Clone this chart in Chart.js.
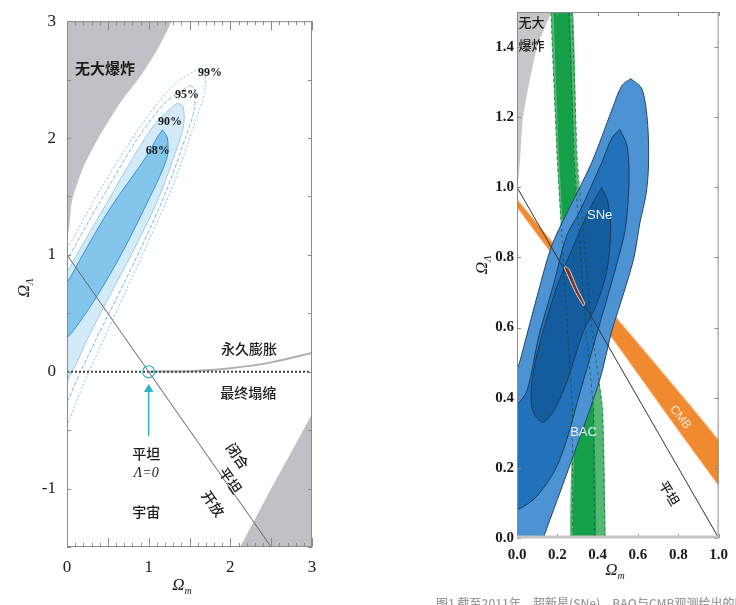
<!DOCTYPE html>
<html><head><meta charset="utf-8">
<script src="https://cdn.jsdelivr.net/npm/chart.js@4.4.1/dist/chart.umd.min.js"></script>
<style>
html,body{margin:0;padding:0;background:#fff;width:736px;height:605px;overflow:hidden;position:relative;}
canvas{position:absolute;top:0;}
#c1{left:0}
#c2{left:470px}
#cap{position:absolute;left:436px;top:594px;font:500 12px "Noto Sans CJK SC";color:#9a9a9a;white-space:nowrap;}
</style></head><body>
<canvas id="c1" width="330" height="605"></canvas>
<canvas id="c2" width="266" height="605"></canvas>
<div id="cap">图1  截至2011年，超新星(SNe)、BAO与CMB观测给出的限制</div>
<script>
// ---------- LEFT PANEL DATA (x = Ω_m, y = Ω_Λ) ----------
const leftXTicks = [0, 1, 2, 3];
const leftYTicks = [-1, 0, 1, 2, 3];
const noBigBangL = [[-0.3,1.0],[0,1.15],[0.06,1.46],[0.2,1.75],[0.4,2.02],[0.65,2.3],[0.89,2.52],[1.1,2.75],[1.28,3.0],[1.4,3.3],[-0.3,3.3],[-0.3,1.0]];
const recollapseL = [[2.0,-1.7],[2.12,-1.5],[2.5,-1.0],[2.8,-0.62],[3.0,-0.36],[3.1,-0.23],[3.2,-1.7],[2.0,-1.7]];
const flatLineL = [[0,1],[2.5,-1.5]];
const lambdaZeroL = [[0,0],[3,0]];
const expandBoundL = [[1,0],[1.5,0.005],[2.0,0.03],[2.5,0.08],[3.0,0.16]];
const c68 = [[1.17,2.07],[1.23,2.0],[1.22,1.82],[0.95,1.40],[0.645,0.98],[0.37,0.65],[0.15,0.42],[0,0.29],[-0.2,0.2],[-0.2,0.55],[0,0.76],[0.2,1.01],[0.53,1.40],[0.98,1.85],[1.1,2.0],[1.17,2.07]];
const c90 = [[1.35,2.3],[1.42,2.27],[1.43,2.12],[1.35,1.92],[1.1,1.45],[0.8,1.02],[0.5,0.62],[0.25,0.28],[0.1,0.05],[-0.2,-0.3],[-0.2,0.6],[0,0.85],[0.12,1.0],[0.45,1.4],[0.85,1.88],[1.1,2.14],[1.35,2.3]];
const c95 = [[1.5,2.45],[1.56,2.42],[1.56,2.25],[1.45,2.0],[1.2,1.52],[0.9,1.05],[0.6,0.62],[0.35,0.27],[0.18,0.02],[-0.2,-0.5],[-0.2,0.6],[0,0.95],[0.1,1.08],[0.4,1.45],[0.85,1.98],[1.2,2.3],[1.5,2.45]];
const c99 = [[1.62,2.6],[1.69,2.57],[1.68,2.38],[1.55,2.1],[1.3,1.6],[1.0,1.12],[0.7,0.66],[0.45,0.28],[0.28,0.02],[-0.2,-0.7],[-0.2,0.7],[0,1.05],[0.1,1.17],[0.4,1.55],[0.9,2.1],[1.3,2.45],[1.62,2.6]];
const flatPoint = [[1,0]];
const arrowL = [[1,-0.55],[1,-0.15]];

// ---------- RIGHT PANEL DATA ----------
const rightXTicks = [0, 0.2, 0.4, 0.6, 0.8, 1.0];
const rightYTicks = [0, 0.2, 0.4, 0.6, 0.8, 1.0, 1.2, 1.4];
const noBigBangR = [[-0.1,0.9],[0,1.0],[0.03,1.2],[0.1,1.4],[0.17,1.5],[0.2,1.6],[-0.1,1.6],[-0.1,0.9]];
const baoOuter = [[0.16,1.6],[0.2,1.07],[0.25,0.6],[0.275,0.37],[0.275,-0.1],[0.44,-0.1],[0.44,0.0],[0.425,0.37],[0.37,0.6],[0.30,1.07],[0.265,1.6],[0.16,1.6]];
const baoInner = [[0.175,1.6],[0.21,1.07],[0.26,0.6],[0.285,0.37],[0.285,-0.1],[0.385,-0.1],[0.38,0.37],[0.34,0.6],[0.285,1.07],[0.25,1.6],[0.175,1.6]];
const baoEdgeA = [[0.16,1.6],[0.2,1.07],[0.25,0.6],[0.275,0.37],[0.275,-0.1]];
const baoEdgeB = [[0.25,1.6],[0.285,1.07],[0.34,0.6],[0.38,0.37],[0.385,-0.1]];
const baoEdgeC = [[0.265,1.6],[0.30,1.07],[0.37,0.6],[0.425,0.37],[0.44,-0.1]];
const cmbBand = [[0.0,0.965],[0.2,0.826],[0.48,0.636],[1.05,0.24],[1.05,0.115],[0.48,0.565],[0.2,0.79],[0.0,0.945],[0.0,0.965]];
const sneOuter = [[0.565,1.31],[0.62,1.28],[0.648,1.18],[0.652,1.06],[0.64,0.98],[0.61,0.9],[0.58,0.8],[0.53,0.70],[0.47,0.59],[0.41,0.45],[0.27,0.22],[0.13,0.0],[0.0,-0.2],[-0.15,-0.2],[-0.15,0.3],[0,0.48],[0.04,0.56],[0.1,0.69],[0.17,0.83],[0.25,0.93],[0.37,1.07],[0.47,1.22],[0.52,1.29],[0.565,1.31]];
const sneMid = [[0.51,1.165],[0.545,1.12],[0.556,1.03],[0.545,0.92],[0.53,0.86],[0.47,0.73],[0.40,0.59],[0.33,0.45],[0.21,0.22],[0.1,0.12],[0,0.08],[-0.15,0.05],[-0.15,0.3],[0,0.38],[0.05,0.42],[0.11,0.58],[0.18,0.72],[0.245,0.86],[0.31,0.93],[0.42,1.07],[0.47,1.14],[0.51,1.165]];
const sneInner = [[0.42,1.0],[0.45,0.96],[0.465,0.88],[0.445,0.76],[0.39,0.66],[0.33,0.59],[0.25,0.45],[0.19,0.37],[0.13,0.33],[0.08,0.36],[0.07,0.42],[0.09,0.5],[0.13,0.59],[0.2,0.72],[0.3,0.86],[0.37,0.95],[0.42,1.0]];
const combined = [[0.24,0.775],[0.26,0.765],[0.3,0.71],[0.335,0.67],[0.33,0.662],[0.29,0.7],[0.25,0.75],[0.235,0.77],[0.24,0.775]];
const flatLineR = [[0,1],[1,0]];

// ---------- helpers ----------
const pts = a => a.map(p => ({x:p[0], y:p[1]}));
function shape(arr, o){
  return Object.assign({data:pts(arr), showLine:true, pointRadius:0, borderWidth:0, fill:'shape', tension:0.3, clip:0}, o);
}
function line(arr, o){
  return Object.assign({data:pts(arr), showLine:true, pointRadius:0, borderWidth:1, fill:false, tension:0, clip:0}, o);
}

const frameTicks = {
  id:'frameTicks',
  afterDatasetsDraw(chart, args, o){
    const {ctx, chartArea:a, scales:{x, y}} = chart;
    ctx.save();
    ctx.strokeStyle = o.color; ctx.lineWidth = 1;
    ctx.beginPath();
    for (const t of o.xt){
      const px = Math.round(x.getPixelForValue(t[0])) + 0.5;
      ctx.moveTo(px, a.top); ctx.lineTo(px, a.top + t[1]);
      ctx.moveTo(px, a.bottom); ctx.lineTo(px, a.bottom - t[1]);
    }
    for (const t of o.yt){
      const py = Math.round(y.getPixelForValue(t[0])) + 0.5;
      ctx.moveTo(a.left, py); ctx.lineTo(a.left + t[1], py);
      ctx.moveTo(a.right, py); ctx.lineTo(a.right - t[1], py);
    }
    ctx.stroke();
    ctx.strokeRect(a.left + 0.5, a.top + 0.5, a.width - 1, a.height - 1);
    if (o.bottomBar){
      ctx.strokeStyle = o.bottomBar; ctx.lineWidth = 3;
      ctx.beginPath(); ctx.moveTo(a.left, a.bottom - 1); ctx.lineTo(a.right, a.bottom - 1); ctx.stroke();
    }
    ctx.restore();
  },
  afterDraw(chart, args, o){
    const {ctx, scales:{x, y}} = chart;
    for (const n of o.notes){
      ctx.save();
      ctx.translate(x.getPixelForValue(n.x), y.getPixelForValue(n.y));
      ctx.rotate((n.rot || 0) * Math.PI / 180);
      ctx.font = n.font; ctx.fillStyle = n.color || '#1a1a1a';
      ctx.textAlign = 'center'; ctx.textBaseline = 'middle';
      ctx.fillText(n.t, 0, 0);
      ctx.restore();
    }
    for (const t of o.titles){
      ctx.save();
      ctx.translate(t.px, t.py);
      if (t.rot) ctx.rotate(t.rot * Math.PI / 180);
      ctx.fillStyle = '#1a1a1a'; ctx.textBaseline = 'middle';
      ctx.font = 'italic 17px "Liberation Serif"';
      const w = ctx.measureText('Ω').width;
      ctx.font = 'italic 10px "Liberation Serif"';
      const w2 = ctx.measureText(t.sub).width;
      const x0 = -(w + w2) / 2;
      ctx.font = 'italic 17px "Liberation Serif"';
      ctx.fillText('Ω', x0, 0);
      ctx.font = 'italic 10px "Liberation Serif"';
      ctx.fillText(t.sub, x0 + w, 5);
      ctx.restore();
    }
  }
};

function makeOptions(c){
  return {
    responsive:false, animation:false, devicePixelRatio:1,
    layout:{padding:{top:c.padTop, right:c.padRight, left:0, bottom:0}},
    elements:{line:{capBezierPoints:false}},
    plugins:{legend:{display:false}, tooltip:{enabled:false}, frameTicks:c.deco},
    scales:{
      x:{type:'linear', min:c.xmin, max:c.xmax,
        afterFit:s => { s.height = c.xAxisH; },
        afterBuildTicks:s => { s.ticks = c.xTicks.map(v => ({value:v})); },
        ticks:{callback:c.fmt, font:c.font, color:'#1a1a1a', padding:c.xPad, maxRotation:0, autoSkip:false},
        grid:{display:false, drawTicks:false}, border:{display:false}},
      y:{type:'linear', min:c.ymin, max:c.ymax,
        afterFit:s => { s.width = c.yAxisW; },
        afterBuildTicks:s => { s.ticks = c.yTicks.map(v => ({value:v})); },
        ticks:{callback:c.fmt, font:c.font, color:'#1a1a1a', padding:c.yPad, autoSkip:false},
        grid:{display:false, drawTicks:false}, border:{display:false}}
    }
  };
}

// ---------- LEFT CHART ----------
const lxt = [];
for (let i = 0; i <= 30; i++) lxt.push([i / 10, i % 5 === 0 ? 9 : 4]);
const lyt = [];
for (let i = -3; i <= 6; i++) lyt.push([i / 2, 4]);
const cjk = '500 14px "Noto Sans CJK SC"';
const pct = 'bold 12px "Liberation Serif"';

new Chart(document.getElementById('c1'), {
  type:'scatter',
  data:{datasets:[
    line(flatPoint, {showLine:false, pointRadius:6, pointStyle:'circle', pointBorderColor:'#35b3c6', pointBackgroundColor:'rgba(0,0,0,0)', pointBorderWidth:1.2}),
    line(arrowL, {borderColor:'#35b3c6', borderWidth:1.5, pointRadius:[0,4], pointStyle:'triangle', pointBackgroundColor:'#35b3c6', pointBorderColor:'#35b3c6'}),
    line(flatLineL, {borderColor:'#666', borderWidth:1}),
    line(lambdaZeroL, {borderColor:'#444', borderWidth:2, borderDash:[2,2]}),
    line(expandBoundL, {borderColor:'#b0b0b0', borderWidth:2, tension:0.3}),
    shape(c68, {backgroundColor:'#84c5ec', borderColor:'#3a8fcc', borderWidth:1}),
    shape(c99, {fill:false, borderColor:'#8cc3e8', borderWidth:1, borderDash:[2,2]}),
    shape(c95, {fill:false, borderColor:'#7ab8e3', borderWidth:1, borderDash:[4,2]}),
    shape(c90, {backgroundColor:'#d3ebf9', borderColor:'#9ccbea', borderWidth:1}),
    shape(recollapseL, {backgroundColor:'#bfc1c6', tension:0}),
    shape(noBigBangL, {backgroundColor:'#bfc1c6', tension:0.2})
  ]},
  options:makeOptions({
    padTop:9, padRight:18, xAxisH:58, yAxisW:67, xPad:10, yPad:11,
    xmin:0, xmax:3, ymin:-1.5, ymax:3, xTicks:leftXTicks, yTicks:leftYTicks,
    fmt:v => String(v), font:{family:'Liberation Serif', size:17},
    deco:{color:'#8a8a8a', xt:lxt, yt:lyt, titles:[
      {sub:'Λ', px:25, py:288, rot:-90},
      {sub:'m', px:182, py:586}
    ], notes:[
      {t:'无大爆炸', x:0.465, y:2.6, font:'600 15px "Noto Sans CJK SC"'},
      {t:'99%', x:1.75, y:2.555, font:pct},
      {t:'95%', x:1.47, y:2.37, font:pct},
      {t:'90%', x:1.26, y:2.14, font:pct},
      {t:'68%', x:1.11, y:1.89, font:pct},
      {t:'永久膨胀', x:2.23, y:0.2, font:cjk},
      {t:'最终塌缩', x:2.22, y:-0.18, font:cjk},
      {t:'平坦', x:0.97, y:-0.7, font:cjk},
      {t:'Λ=0', x:0.97, y:-0.87, font:'italic 14px "Liberation Serif"'},
      {t:'宇宙', x:0.97, y:-1.2, font:cjk},
      {t:'闭合', x:2.09, y:-0.72, font:cjk, rot:55},
      {t:'平坦', x:2.0, y:-0.93, font:cjk, rot:55},
      {t:'开放', x:1.79, y:-1.13, font:cjk, rot:55}
    ]}
  }),
  plugins:[frameTicks]
});

// ---------- RIGHT CHART ----------
const rxt = rightXTicks.map(v => [v, 4]);
const ryt = rightYTicks.map(v => [v, 4]);
const dashG = {borderColor:'rgba(20,70,40,0.6)', borderWidth:1, borderDash:[3,3]};

new Chart(document.getElementById('c2'), {
  type:'scatter',
  data:{datasets:[
    shape(combined, {backgroundColor:'#7a3428', borderColor:'#e8dcd8', borderWidth:1, tension:0.2}),
    line(flatLineR, {borderColor:'#333', borderWidth:1}),
    line(baoEdgeA, dashG),
    line(baoEdgeB, dashG),
    line(baoEdgeC, dashG),
    shape(sneInner, {backgroundColor:'#135c9e', borderColor:'#203a5a', borderWidth:1}),
    shape(sneMid, {backgroundColor:'#2272bb', borderColor:'#203a5a', borderWidth:1}),
    shape(sneOuter, {backgroundColor:'#4b93d2', borderColor:'#2a4468', borderWidth:1}),
    shape(cmbBand, {backgroundColor:'#f08a30', borderColor:'rgba(245,160,90,0.6)', borderWidth:1.5, tension:0.1}),
    shape(baoInner, {backgroundColor:'#16a04a', tension:0.2}),
    shape(baoOuter, {backgroundColor:'#52b873', tension:0.2}),
    shape(noBigBangR, {backgroundColor:'#c6c7cb', tension:0.2})
  ]},
  options:makeOptions({
    padTop:8, padRight:10, xAxisH:67, yAxisW:47, xPad:8, yPad:3,
    xmin:0, xmax:1, ymin:0, ymax:1.5, xTicks:rightXTicks, yTicks:rightYTicks,
    fmt:v => v.toFixed(1), font:{family:'Liberation Serif', size:15, weight:'bold'},
    deco:{color:'#8a8a8a', xt:rxt, yt:ryt, bottomBar:'#c4c4c4', titles:[
      {sub:'Λ', px:13, py:265, rot:-90},
      {sub:'m', px:145, py:571}
    ], notes:[
      {t:'无大', x:0.072, y:1.47, font:'500 13px "Noto Sans CJK SC"'},
      {t:'爆炸', x:0.072, y:1.405, font:'500 13px "Noto Sans CJK SC"'},
      {t:'SNe', x:0.41, y:0.92, font:'13px "Liberation Sans Narrow", "Liberation Sans"', color:'#eef6ff'},
      {t:'BAC', x:0.33, y:0.30, font:'13px "Liberation Sans Narrow", "Liberation Sans"', color:'#eef6ff'},
      {t:'CMB', x:0.81, y:0.344, font:'12px "Liberation Sans Narrow", "Liberation Sans"', color:'#fde8d2', rot:52},
      {t:'平坦', x:0.756, y:0.128, font:'500 13px "Noto Sans CJK SC"', rot:59}
    ]}
  }),
  plugins:[frameTicks]
});
</script>
</body></html>
